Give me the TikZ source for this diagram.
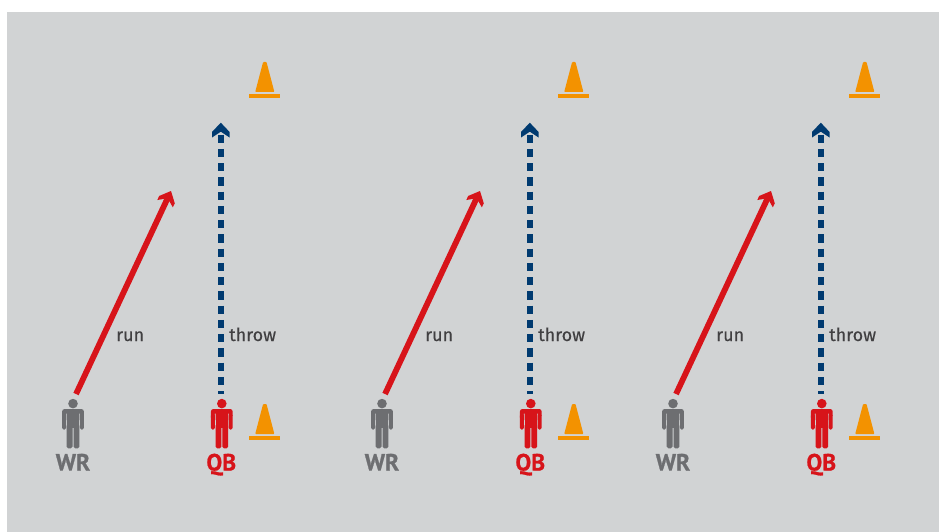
\documentclass[tikz,border=0pt]{standalone}
\usepackage{fontspec}
\setmainfont{Fira Sans}
\newfontfamily\labfont{Fira Sans}[FakeBold=0.35]
\newfontfamily\rolefont{PT Sans Bold}[FakeBold=0.9]
\usetikzlibrary{arrows.meta}
\definecolor{bggray}{HTML}{D1D3D4}
\definecolor{conecol}{HTML}{F39200}
\definecolor{redcol}{HTML}{D7141A}
\definecolor{bluecol}{HTML}{003A70}
\definecolor{graycol}{HTML}{6D6E71}
\definecolor{txtcol}{HTML}{414042}
\pgfdeclarearrow{
  name=ChevBlue,
  setup code={\pgfarrowssettipend{0pt}\pgfarrowssetlineend{-12pt}\pgfarrowssetvisualbackend{-14.8pt}\pgfarrowssetbackend{-14.8pt}},
  drawing code={
    \pgfpathmoveto{\pgfpoint{0pt}{0pt}}
    \pgfpathlineto{\pgfpoint{-9.3pt}{8.8pt}}
    \pgfpathlineto{\pgfpoint{-14.8pt}{8.8pt}}
    \pgfpathlineto{\pgfpoint{-9pt}{0pt}}
    \pgfpathlineto{\pgfpoint{-14.8pt}{-8.8pt}}
    \pgfpathlineto{\pgfpoint{-9.3pt}{-8.8pt}}
    \pgfpathclose\pgfusepathqfill}
}
\pgfdeclarearrow{
  name=ChevRed,
  setup code={\pgfarrowssettipend{0pt}\pgfarrowssetlineend{-7pt}\pgfarrowssetvisualbackend{-14pt}\pgfarrowssetbackend{-14pt}},
  drawing code={
    \pgfpathmoveto{\pgfpoint{0pt}{0pt}}
    \pgfpathlineto{\pgfpoint{-9.5pt}{8.6pt}}
    \pgfpathlineto{\pgfpoint{-14pt}{8.6pt}}
    \pgfpathlineto{\pgfpoint{-8pt}{0pt}}
    \pgfpathlineto{\pgfpoint{-14pt}{-8.6pt}}
    \pgfpathlineto{\pgfpoint{-9.5pt}{-8.6pt}}
    \pgfpathclose\pgfusepathqfill}
}
\tikzset{
  x=1pt,y=-1pt,
  runline/.style={draw=redcol,line width=5.8pt,-{ChevRed[]},redcol,shorten <=5.5pt},
  throwline/.style={draw=bluecol,bluecol,line width=5.6pt,{ChevBlue[]}-,dash pattern=on 8.1pt off 6.15pt,shorten >=5pt},
  lab/.style={font=\fontsize{18}{20}\labfont,text=txtcol,anchor=base west,inner sep=0pt},
  role/.style={font=\fontsize{23.5}{26}\rolefont,anchor=base,inner sep=0pt},
  personbox/.style={minimum width=22pt,minimum height=50pt,inner sep=0pt,anchor=north},
  conebox/.style={minimum width=31pt,minimum height=36pt,inner sep=0pt}
}
\newcommand{\figperson}[2]{% x, colour
  \fill[#2] (#1,403.6) circle[radius=4.8];
  \fill[#2,rounded corners=2.5pt] (#1-10.9,409) rectangle (#1+10.9,420);
  \fill[bggray] (#1-6.9,413.5) rectangle (#1-6.3,421) (#1+6.3,413.5) rectangle (#1+6.9,421);
  \fill[bggray] (#1-11,416) rectangle (#1-6.9,421) (#1+6.9,416) rectangle (#1+11,421);
  \fill[#2,rounded corners=1.6pt] (#1-10.9,414) rectangle (#1-6.9,429.6);
  \fill[#2,rounded corners=1.6pt] (#1+6.9,414) rectangle (#1+10.9,429.6);
  \fill[#2] (#1-6.3,412) rectangle (#1+6.3,428);
  \fill[#2,rounded corners=1.6pt] (#1-6.3,424) rectangle (#1-0.5,448.3);
  \fill[#2,rounded corners=1.6pt] (#1+0.5,424) rectangle (#1+6.3,448.3);
}
\newcommand{\figcone}[2]{% x, y offset
  \fill[conecol] (#1-15.5,436+#2) rectangle (#1+15.5,440+#2);
  \fill[conecol,rounded corners=0.8pt] (#1-9.6,434+#2) -- (#1-1.7,404+#2) -- (#1+1.7,404+#2) -- (#1+9.6,434+#2) -- cycle;
}
\begin{document}
\begin{tikzpicture}
\useasboundingbox (0,0) rectangle (939,532);
\fill[bggray] (7,12) rectangle (939,532);
\foreach \i/\d in {1/0,2/309,3/600}{
  \pgfmathsetmacro{\wx}{73+\d}
  \pgfmathsetmacro{\qx}{221.8+\d}
  \pgfmathsetmacro{\cx}{264.8+\d}
  \figperson{\wx}{graycol}
  \figperson{\qx}{redcol}
  \figcone{\cx}{0}
  \figcone{\cx}{-342}
  \node[personbox] (wr\i) at (\wx,399) {};
  \node[personbox] (qb\i) at (\qx,399) {};
  \node[conebox] (coneb\i) at (\cx,422) {};
  \node[conebox] (conet\i) at (\cx,80) {};
  \coordinate (runend\i) at (171+\d,191);
  \coordinate (throwend\i) at (\qx-1,122.7);
  \draw[runline] ([xshift=0.7pt]wr\i.north) -- (runend\i);
  \draw[throwline] (throwend\i) -- ([xshift=-1pt]qb\i.north);
  \node[lab] (run\i) at (116+\d,341) {run};
  \node[lab] (throw\i) at (229+\d,341) {throw};
  \node[role,text=graycol] (wrl\i) at (\wx,470.5) {WR};
  \node[role,text=redcol] (qbl\i) at (\qx-0.5,470.5) {QB};
}
\end{tikzpicture}
\end{document}
